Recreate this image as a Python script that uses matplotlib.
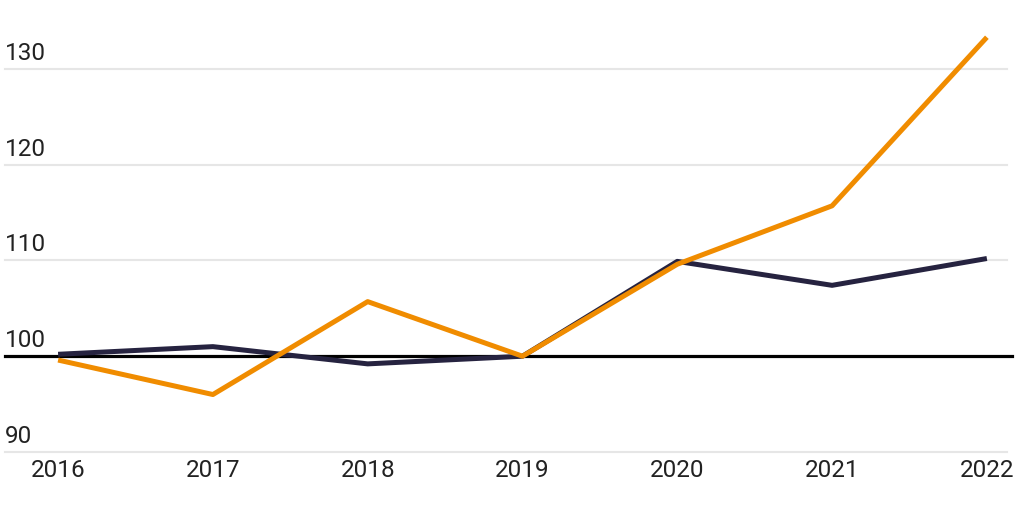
import matplotlib
matplotlib.use("Agg")
import matplotlib.pyplot as plt
import matplotlib.transforms as mtransforms

years = [2016, 2017, 2018, 2019, 2020, 2021, 2022]
dark_series = [100.2, 101.0, 99.2, 100.0, 109.9, 107.4, 110.2]
orange_series = [99.6, 96.0, 105.7, 100.0, 109.6, 115.7, 133.3]
y_ticks = [90, 100, 110, 120, 130]
y_labels = ["90", "100", "110", "120", "130"]

plt.rcParams['font.family'] = ['Roboto', 'DejaVu Sans']

fig = plt.figure(figsize=(10.24, 5.12), dpi=100)
ax = fig.add_axes([5/1024, 60/512, 1002/1024, 432/512])
ax.set_xlim(2015.657, 2022.13)
ax.set_ylim(90, 135.1)

trans = mtransforms.blended_transform_factory(ax.transAxes, ax.transData)
offset = mtransforms.ScaledTranslation(0, 4/100, fig.dpi_scale_trans)
for v, lab in zip(y_ticks, y_labels):
    if v != 100:
        ax.plot([0, 1], [v, v], transform=trans, color='#e6e6e6', lw=1.5, zorder=0, clip_on=False)
    ax.text(0, v, lab, transform=trans + offset, ha='left', va='bottom', fontsize=17.5,
            color='#222222')

ax.plot([0, 1.005], [100, 100], transform=trans, color='black', lw=2.3, zorder=2, clip_on=False)

ax.plot(years, dark_series, color='#262340', lw=3.6, zorder=3, solid_capstyle='butt')
ax.plot(years, orange_series, color='#F08C00', lw=3.6, zorder=4, solid_capstyle='butt')

ax.set_xticks(years)
ax.set_xticklabels([str(y) for y in years], fontsize=17.5, color='#222222')
ax.tick_params(axis='x', length=0, pad=5)
ax.set_yticks([])
for s in ax.spines.values():
    s.set_visible(False)

fig.savefig("out.png", dpi=100)
